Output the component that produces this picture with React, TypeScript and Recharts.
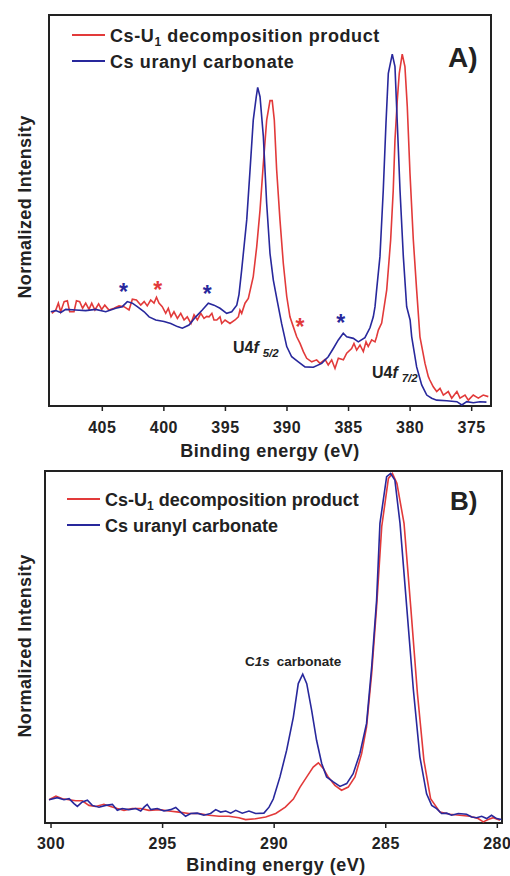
import { LineChart, Line, XAxis, YAxis, ReferenceArea, ReferenceDot } from "recharts"

// U4f panel (A): binding energy (eV) / normalized intensity
const aBlueE = [409.19, 408.78, 408.38, 407.97, 407.16, 406.35, 405.54, 404.72, 403.91, 403.38, 402.97, 402.56, 402.16, 401.6, 401.2, 400.66, 399.99, 399.44, 398.9, 398.5, 397.96, 397.41, 396.88, 396.39, 395.93, 395.44, 394.9, 394.49, 394.08, 393.9, 393.68, 393.27, 393.0, 392.74, 392.5, 392.38, 392.19, 391.92, 391.65, 391.38, 391.11, 390.8, 390.43, 390.02, 389.62, 389.08, 388.54, 387.86, 387.18, 386.65, 386.24, 385.83, 385.43, 385.15, 384.61, 384.21, 383.67, 383.26, 382.99, 382.85, 382.72, 382.45, 382.18, 381.96, 381.77, 381.45, 381.23, 381.04, 380.82, 380.55, 380.28, 380.0, 379.87, 379.74, 379.47, 379.06, 378.65, 378.25, 377.84, 377.03, 376.2, 375.8, 375.4, 374.87, 374.33, 373.8]
const aBlue = [0.241, 0.244, 0.239, 0.247, 0.2455, 0.244, 0.247, 0.241, 0.25, 0.254, 0.267, 0.263, 0.254, 0.241, 0.228, 0.22, 0.216, 0.211, 0.203, 0.199, 0.207, 0.228, 0.2455, 0.263, 0.258, 0.25, 0.237, 0.241, 0.258, 0.285, 0.348, 0.476, 0.604, 0.731, 0.79, 0.815, 0.791, 0.689, 0.518, 0.39, 0.322, 0.27, 0.21, 0.152, 0.126, 0.113, 0.1, 0.099, 0.109, 0.126, 0.147, 0.169, 0.186, 0.177, 0.173, 0.164, 0.175, 0.2, 0.228, 0.254, 0.297, 0.382, 0.552, 0.723, 0.851, 0.9, 0.868, 0.723, 0.552, 0.382, 0.254, 0.22, 0.177, 0.152, 0.1, 0.054, 0.028, 0.02, 0.015, 0.0135, 0.011, 0.0026, 0.011, 0.0085, 0.011, 0.01]

const aRedE = [409.1, 408.78, 408.57, 408.38, 408.1, 407.84, 407.65, 407.3, 407.1, 406.84, 406.6, 406.35, 406.08, 405.86, 405.6, 405.3, 405.05, 404.8, 404.46, 404.05, 403.64, 403.24, 402.83, 402.56, 402.23, 401.88, 401.6, 401.35, 401.07, 400.8, 400.6, 400.4, 400.13, 399.85, 399.64, 399.42, 399.18, 398.9, 398.63, 398.36, 398.1, 397.8, 397.55, 397.28, 397.0, 396.74, 396.52, 396.33, 396.1, 395.93, 395.7, 395.44, 395.3, 395.03, 394.63, 394.22, 393.95, 393.82, 393.68, 393.41, 393.14, 392.74, 392.46, 392.19, 391.92, 391.65, 391.38, 391.2, 391.03, 390.84, 390.57, 390.3, 390.02, 389.76, 389.49, 389.21, 388.94, 388.67, 388.4, 387.99, 387.59, 387.32, 386.91, 386.65, 386.37, 386.1, 385.83, 385.42, 385.15, 384.75, 384.56, 384.34, 384.07, 383.8, 383.58, 383.4, 383.12, 382.85, 382.72, 382.58, 382.31, 381.9, 381.58, 381.37, 381.23, 381.04, 380.88, 380.64, 380.42, 380.23, 380.01, 379.74, 379.47, 379.2, 378.79, 378.52, 378.4, 378.12, 377.84, 377.57, 377.3, 376.9, 376.62, 376.2, 375.95, 375.54, 375.27, 374.87, 374.46, 374.06, 373.65]
const aRed = [0.237, 0.2455, 0.263, 0.241, 0.267, 0.269, 0.241, 0.241, 0.269, 0.267, 0.25, 0.263, 0.247, 0.263, 0.2455, 0.261, 0.247, 0.258, 0.2455, 0.25, 0.256, 0.254, 0.2455, 0.273, 0.271, 0.258, 0.267, 0.256, 0.271, 0.263, 0.278, 0.263, 0.254, 0.237, 0.25, 0.228, 0.241, 0.224, 0.237, 0.22, 0.228, 0.211, 0.233, 0.22, 0.237, 0.224, 0.229, 0.228, 0.237, 0.22, 0.22, 0.228, 0.211, 0.22, 0.211, 0.22, 0.228, 0.2455, 0.237, 0.263, 0.275, 0.331, 0.407, 0.501, 0.621, 0.731, 0.781, 0.781, 0.731, 0.604, 0.476, 0.365, 0.28, 0.228, 0.203, 0.177, 0.16, 0.139, 0.122, 0.113, 0.118, 0.109, 0.119, 0.105, 0.118, 0.096, 0.122, 0.118, 0.135, 0.147, 0.16, 0.143, 0.156, 0.139, 0.164, 0.152, 0.169, 0.164, 0.177, 0.194, 0.212, 0.297, 0.425, 0.552, 0.68, 0.783, 0.851, 0.9, 0.868, 0.766, 0.595, 0.425, 0.297, 0.177, 0.109, 0.075, 0.0665, 0.049, 0.037, 0.045, 0.028, 0.037, 0.02, 0.037, 0.02, 0.028, 0.015, 0.028, 0.02, 0.028, 0.024]

// C1s panel (B)
const bBlueE = [300.09, 299.72, 299.42, 299.19, 298.97, 298.82, 298.6, 298.37, 298.15, 297.85, 297.55, 297.25, 297.03, 296.81, 296.51, 296.2, 295.98, 295.83, 295.69, 295.53, 295.24, 294.94, 294.64, 294.41, 294.19, 293.97, 293.74, 293.45, 293.15, 292.85, 292.62, 292.4, 292.17, 291.95, 291.72, 291.43, 291.13, 290.83, 290.46, 290.23, 290.04, 289.74, 289.44, 289.14, 288.92, 288.72, 288.54, 288.32, 288.1, 287.87, 287.65, 287.35, 287.05, 286.75, 286.46, 286.16, 285.86, 285.63, 285.41, 285.26, 284.96, 284.78, 284.59, 284.36, 284.06, 283.76, 283.47, 283.17, 282.94, 282.72, 282.5, 282.27, 282.05, 281.75, 281.38, 281.15, 280.93, 280.7, 280.48, 280.26, 280.03, 279.81]
const bBlue = [0.066, 0.072, 0.066, 0.069, 0.055, 0.047, 0.06, 0.065, 0.05, 0.045, 0.05, 0.053, 0.036, 0.041, 0.038, 0.041, 0.034, 0.045, 0.053, 0.038, 0.041, 0.034, 0.038, 0.044, 0.031, 0.019, 0.027, 0.028, 0.022, 0.027, 0.038, 0.031, 0.034, 0.028, 0.036, 0.028, 0.034, 0.027, 0.028, 0.045, 0.068, 0.131, 0.207, 0.301, 0.396, 0.423, 0.396, 0.32, 0.235, 0.169, 0.131, 0.117, 0.104, 0.112, 0.14, 0.197, 0.283, 0.444, 0.633, 0.851, 0.984, 0.993, 0.974, 0.851, 0.614, 0.377, 0.188, 0.083, 0.05, 0.041, 0.027, 0.028, 0.022, 0.027, 0.025, 0.017, 0.015, 0.019, 0.0125, 0.022, 0.0125, 0.0097]

const bRedE = [300.09, 299.78, 299.49, 299.19, 298.89, 298.6, 298.3, 298.0, 297.63, 297.33, 297.03, 296.73, 296.36, 295.98, 295.61, 295.16, 294.71, 294.27, 293.82, 293.37, 292.92, 292.47, 292.03, 291.58, 291.28, 290.83, 290.38, 289.93, 289.5, 289.14, 288.84, 288.54, 288.25, 288.02, 287.8, 287.58, 287.28, 286.98, 286.68, 286.38, 286.08, 285.86, 285.63, 285.41, 285.18, 284.88, 284.7, 284.5, 284.18, 283.88, 283.58, 283.29, 282.99, 282.57, 282.12, 281.68, 281.23, 280.86, 280.63, 280.41, 280.18, 279.88]
const bRed = [0.066, 0.076, 0.069, 0.066, 0.063, 0.063, 0.05, 0.047, 0.053, 0.047, 0.041, 0.036, 0.041, 0.041, 0.036, 0.038, 0.034, 0.031, 0.027, 0.027, 0.022, 0.019, 0.019, 0.015, 0.0097, 0.012, 0.017, 0.027, 0.045, 0.068, 0.102, 0.131, 0.159, 0.171, 0.155, 0.131, 0.107, 0.093, 0.102, 0.131, 0.197, 0.273, 0.425, 0.614, 0.842, 0.979, 0.993, 0.965, 0.851, 0.614, 0.368, 0.178, 0.069, 0.031, 0.025, 0.022, 0.019, 0.0125, 0.003, 0.0097, 0.015, 0.0077]

const aTicks = [405, 400, 395, 390, 385, 380, 375]
const bTicks = [300, 295, 290, 285, 280]
const A_DOMAIN: [number, number] = [373.43, 409.33]
const B_DOMAIN: [number, number] = [279.79, 300.27]

// annotations: [energy, intensity, colour]
const aStars: [number, number, string][] = [
  [403.29, 0.304, "blue"],
  [400.5, 0.31, "red"],
  [396.47, 0.299, "blue"],
  [388.94, 0.216, "red"],
  [385.64, 0.224, "blue"],
]

const RED = "#e23a3a"
const BLUE = "#28289c"
const INK = "#222"
const FONT = "'Liberation Sans', Arial, sans-serif"

const toPts = (xs: number[], ys: number[]) => xs.map((e, i) => ({ e, v: ys[i] }))

const tickStyle = { fontFamily: FONT, fontSize: 16, fontWeight: 700, fill: INK, letterSpacing: 0.5 }

function Star({ cx, cy, color }: { cx?: number; cy?: number; color: string }) {
  return (
    <text x={cx} y={(cy ?? 0) + 13} textAnchor="middle" fontFamily={FONT} fontSize={23} fontWeight={700} fill={color}>
      *
    </text>
  )
}

function PeakLabel({ cx, cy, sub }: { cx?: number; cy?: number; sub: string }) {
  return (
    <text x={cx} y={cy} fontFamily={FONT} fontWeight={700} fill={INK}>
      <tspan fontSize={16}>U4</tspan>
      <tspan fontSize={16} fontStyle="italic">f</tspan>
      <tspan fontSize={11.5} fontStyle="italic" dx={4} dy={4}>{sub}</tspan>
    </text>
  )
}

function CarbLabel({ cx, cy }: { cx?: number; cy?: number }) {
  return (
    <text x={cx} y={cy} fontFamily={FONT} fontWeight={700} fontSize={13.5} fill={INK}>
      <tspan>C</tspan>
      <tspan fontStyle="italic">1s</tspan>
      <tspan dx={7}>carbonate</tspan>
    </text>
  )
}

function LegendBlock({ x, y, spacing }: { x: number; y: number; spacing: number }) {
  // x = line start, y = red line y
  return (
    <g fontFamily={FONT} fontWeight={700} fontSize={18} fill={INK} letterSpacing={spacing}>
      <line x1={x} x2={x + 33} y1={y} y2={y} stroke={RED} strokeWidth={1.8} />
      <text x={x + 38} y={y + 6.5}>
        Cs-U<tspan fontSize={12} dy={4}>1</tspan>
        <tspan dy={-4}> decomposition product</tspan>
      </text>
      <line x1={x} x2={x + 33} y1={y + 26} y2={y + 26} stroke={BLUE} strokeWidth={1.8} />
      <text x={x + 38} y={y + 32.5}>Cs uranyl carbonate</text>
    </g>
  )
}

export default function App() {
  const aBluePts = toPts(aBlueE, aBlue)
  const aRedPts = toPts(aRedE, aRed)
  const bBluePts = toPts(bBlueE, bBlue)
  const bRedPts = toPts(bRedE, bRed)

  return (
    <div style={{ position: "absolute", left: 0, top: 0, width: 510, height: 876, background: "#fff" }}>
      <div style={{ position: "absolute", left: 0, top: 0 }}>
        <LineChart width={510} height={440} margin={{ top: 15, right: 19, bottom: 4, left: 49 }}>
          <XAxis
            dataKey="e"
            type="number"
            domain={A_DOMAIN}
            allowDataOverflow
            reversed
            ticks={aTicks}
            height={30}
            axisLine={false}
            tickLine={{ stroke: INK, strokeWidth: 1.5 }}
            tickSize={5}
            tickMargin={11}
            tick={tickStyle}
          />
          <YAxis hide type="number" domain={[0, 1]} allowDataOverflow />
          <ReferenceArea x1={A_DOMAIN[0]} x2={A_DOMAIN[1]} y1={0} y2={1} fill="none" stroke={INK} strokeWidth={2} />
          <Line data={aRedPts} dataKey="v" stroke={RED} strokeWidth={1.6} dot={false} isAnimationActive={false} />
          <Line data={aBluePts} dataKey="v" stroke={BLUE} strokeWidth={1.6} dot={false} isAnimationActive={false} />
          {aStars.map(([e, v, c], i) => (
            <ReferenceDot key={i} x={e} y={v} r={0} shape={(p: any) => <Star {...p} color={c === "red" ? RED : BLUE} />} />
          ))}
          <ReferenceDot x={394.39} y={0.1356} r={0} shape={(p: any) => <PeakLabel {...p} sub="5/2" />} />
          <ReferenceDot x={383.1} y={0.0724} r={0} shape={(p: any) => <PeakLabel {...p} sub="7/2" />} />
        </LineChart>
      </div>

      <div style={{ position: "absolute", left: 0, top: 440 }}>
        <LineChart width={510} height={436} margin={{ top: 31, right: 8, bottom: 23, left: 45 }}>
          <XAxis
            dataKey="e"
            type="number"
            domain={B_DOMAIN}
            allowDataOverflow
            reversed
            ticks={bTicks}
            height={30}
            axisLine={false}
            tickLine={{ stroke: INK, strokeWidth: 1.5 }}
            tickSize={5}
            tickMargin={10}
            tick={tickStyle}
          />
          <YAxis hide type="number" domain={[0, 1]} allowDataOverflow />
          <ReferenceArea x1={B_DOMAIN[0]} x2={B_DOMAIN[1]} y1={0} y2={1} fill="none" stroke={INK} strokeWidth={2} />
          <Line data={bRedPts} dataKey="v" stroke={RED} strokeWidth={1.6} dot={false} isAnimationActive={false} />
          <Line data={bBluePts} dataKey="v" stroke={BLUE} strokeWidth={1.6} dot={false} isAnimationActive={false} />
          <ReferenceDot x={291.31} y={0.4464} r={0} shape={(p: any) => <CarbLabel {...p} />} />
        </LineChart>
      </div>

      <svg width={510} height={876} style={{ position: "absolute", left: 0, top: 0, pointerEvents: "none" }}>
        <LegendBlock x={72} y={35} spacing={0.6} />
        <LegendBlock x={67} y={499} spacing={0} />
        <text x={448} y={66.7} fontFamily={FONT} fontWeight={700} fontSize={28} fill={INK}>A)</text>
        <text x={450} y={510} fontFamily={FONT} fontWeight={700} fontSize={26} fill={INK}>B)</text>
        <g fontFamily={FONT} fontWeight={700} fontSize={18} fill={INK} letterSpacing={0.5}>
          <text x={270} y={456.7} textAnchor="middle">Binding energy (eV)</text>
          <text x={276} y={870.7} textAnchor="middle">Binding energy (eV)</text>
          <text transform="translate(30.5,207) rotate(-90)" textAnchor="middle" letterSpacing={0.35}>Normalized Intensity</text>
          <text transform="translate(30.5,646) rotate(-90)" textAnchor="middle" letterSpacing={0.35}>Normalized Intensity</text>
        </g>
      </svg>
    </div>
  )
}
